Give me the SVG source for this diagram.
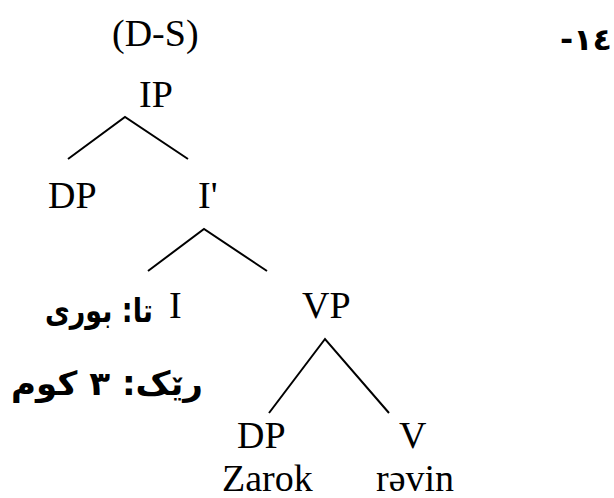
<svg xmlns="http://www.w3.org/2000/svg" width="614" height="498" viewBox="0 0 614 498">
<style>
.lbl{font-family:"Liberation Serif","Times New Roman",serif;font-size:38px;fill:#000}
.ar{font-family:"DejaVu Sans","Noto Sans",sans-serif;font-weight:bold;fill:#000}
.edge{stroke:#000;stroke-width:2;fill:none;stroke-linecap:butt}
</style>
<rect width="614" height="498" fill="#fff"/>
<g id="number"><text class="ar" x="612" y="50" font-size="30" text-anchor="end" textLength="52" lengthAdjust="spacingAndGlyphs">-١٤</text></g>
<g id="title"><text class="lbl" x="112" y="46">(D-S)</text></g>
<g id="IP"><text class="lbl" x="139" y="107">IP</text></g>
<g id="DP1"><text class="lbl" x="48" y="208">DP</text></g>
<g id="Ibar"><text class="lbl" x="198" y="208">I'</text></g>
<g id="I"><text><tspan class="ar" x="153" y="322" font-size="33" text-anchor="end" textLength="108" lengthAdjust="spacingAndGlyphs">تا: بوری</tspan><tspan class="lbl" x="169" y="318" text-anchor="start">I</tspan></text></g>
<g id="VP"><text class="lbl" x="302" y="318">VP</text></g>
<g id="note"><text class="ar" x="203" y="395" font-size="33" text-anchor="end" textLength="192" lengthAdjust="spacingAndGlyphs">رێک: ٣ کوم</text></g>
<g id="DP2"><text class="lbl" x="237" y="448">DP</text><text class="lbl" x="222" y="491">Zarok</text></g>
<g id="V"><text class="lbl" x="399" y="448">V</text><text class="lbl" x="376" y="491">rəvin</text></g>
<g id="connectors">
<path class="edge" d="M68,159 L125,117 L188,159"/>
<path class="edge" d="M148,271 L204,229 L267,271"/>
<path class="edge" d="M269,413 L325,339 L389,413"/>
</g>
</svg>
